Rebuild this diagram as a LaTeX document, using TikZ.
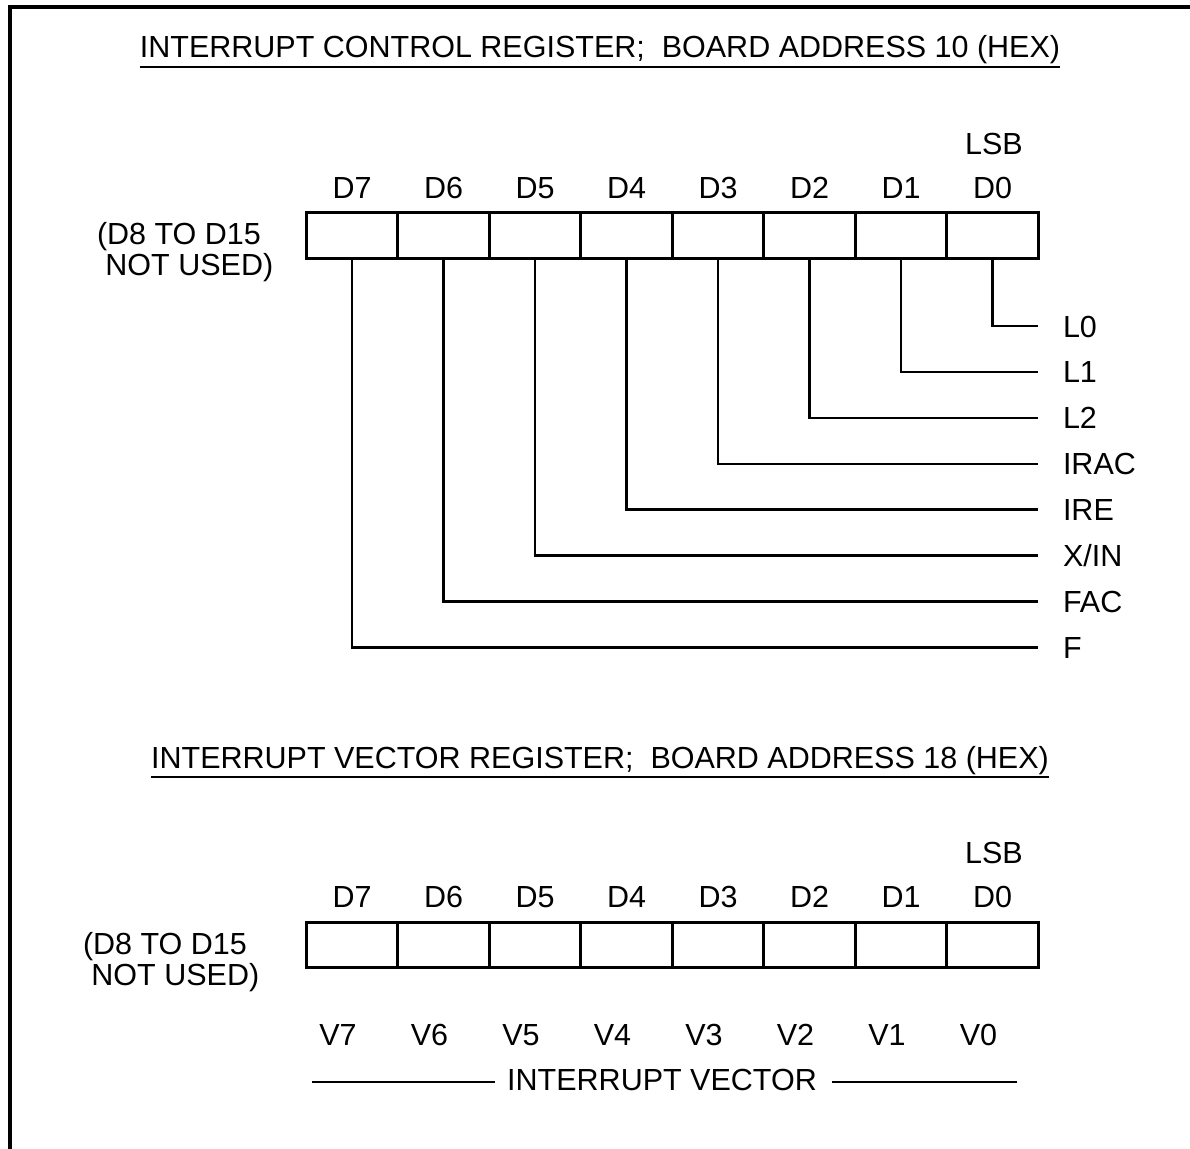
\documentclass[tikz,border=0pt]{standalone}
\usepackage{fontspec}
\setmainfont{Liberation Sans}
\usetikzlibrary{positioning}

\begin{document}
\begin{tikzpicture}[
  x=1pt, y=-1pt,
  every node/.style={inner sep=0pt, outer sep=0pt, font=\fontsize{30.5}{30.5}\selectfont},
  title/.style={anchor=base},
  cell/.style={draw, line width=2.6pt, minimum width=91.5pt, minimum height=45.5pt},
  bitlab/.style={anchor=base},
  sig/.style={text height=22pt, text depth=0pt},
  note/.style={align=left, anchor=base west},
  wire/.style={line width=2.4pt},
  frameline/.style={line width=4.8pt},
]
\clip (0,0) rectangle (1190,1148);
\draw[frameline] (10,1170) -- (10,7) -- (1210,7);

% control register
\node[title] (ctitle) at (600,58) {INTERRUPT CONTROL REGISTER;\ \ BOARD ADDRESS 10 (HEX)};
\draw[wire] ([yshift=-9pt]ctitle.base west) -- ([yshift=-9pt]ctitle.base east);

\node[note] (cnote) at (97,275) {(D8 TO D15\\\ NOT USED)};

\foreach \i [evaluate=\i as \x using 352+(7-\i)*91.5] in {7,...,0} {
  \node[cell] (c\i) at (\x,235.5) {};
  \node[bitlab] (cl\i) at (\x,198) {D\i};
}
\node[bitlab] (clsb) at (994,154) {LSB};

\foreach \i/\txt in {0/L0,1/L1,2/L2,3/IRAC,4/IRE,5/{X/IN},6/FAC,7/F} {
  \coordinate (e\i) at (1038,{326+\i*45.9});
  \node[sig, right=25pt of e\i] (s\i) {\txt};
  \draw[wire] (c\i.south) |- (e\i);
}

% vector register
\node[title] (vtitle) at (600,768) {INTERRUPT VECTOR REGISTER;\ \ BOARD ADDRESS 18 (HEX)};
\draw[wire] ([yshift=-9pt]vtitle.base west) -- ([yshift=-9pt]vtitle.base east);

\node[note] (vnote) at (83,985) {(D8 TO D15\\\ NOT USED)};

\foreach \i [evaluate=\i as \x using 352+(7-\i)*91.5] in {7,...,0} {
  \node[cell] (v\i) at (\x,945) {};
  \node[bitlab] (vl\i) at (\x,907) {D\i};
  \node[bitlab] (vn\i) at (\x-14,1045) {V\i};
}
\node[bitlab] (vlsb) at (994,863) {LSB};

\node[bitlab] (ivtext) at (662,1090) {INTERRUPT VECTOR};
\coordinate (ivl) at (312,1082);
\coordinate (ivr) at (1017,1082);
\draw[wire, shorten >=12pt] (ivl) -- (ivl -| ivtext.west);
\draw[wire, shorten >=15pt] (ivr) -- (ivr -| ivtext.east);
\end{tikzpicture}
\end{document}
